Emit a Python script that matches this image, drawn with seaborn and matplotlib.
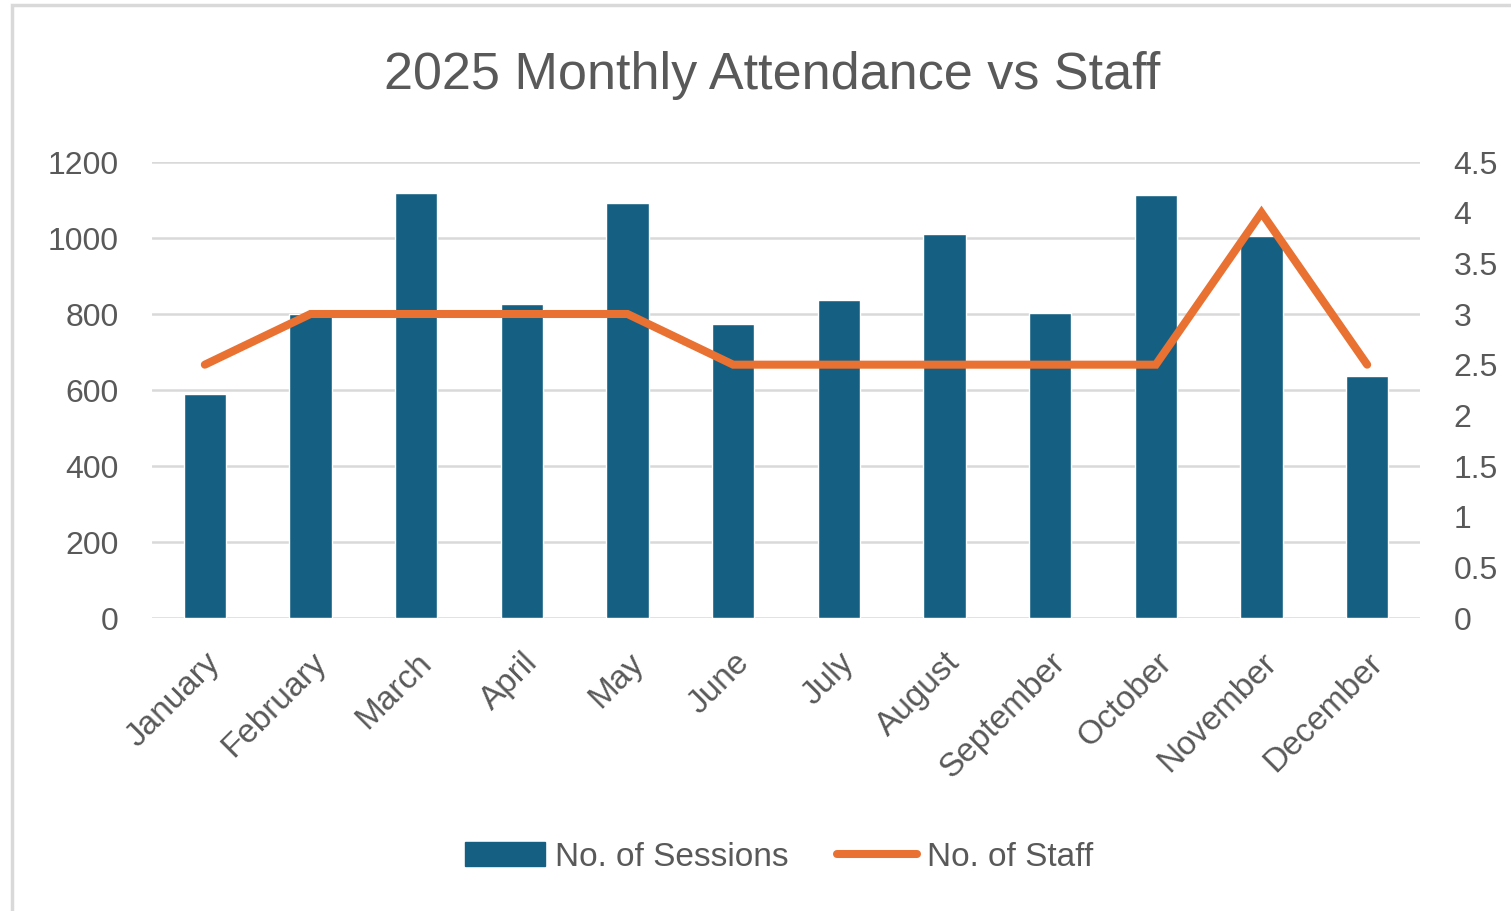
import matplotlib
matplotlib.use("Agg")
import matplotlib.pyplot as plt
import seaborn as sns
import pandas as pd
from matplotlib.patches import Rectangle, Patch
from matplotlib.lines import Line2D

months = ["January", "February", "March", "April", "May", "June", "July",
          "August", "September", "October", "November", "December"]
sessions = [590, 799, 1118, 825, 1092, 773, 836, 1011, 803, 1112, 1005, 638]
staff = [2.5, 3, 3, 3, 3, 2.5, 2.5, 2.5, 2.5, 2.5, 4, 2.5]
left_ticks = [0, 200, 400, 600, 800, 1000, 1200]
right_ticks = [0, 0.5, 1, 1.5, 2, 2.5, 3, 3.5, 4, 4.5]
right_labels = ["0", "0.5", "1", "1.5", "2", "2.5", "3", "3.5", "4", "4.5"]

title = "2025 Monthly Attendance vs Staff"
bar_label = "No. of Sessions"
line_label = "No. of Staff"

BLUE = "#156082"
ORANGE = "#E97132"
TEXT = "#595959"
GRID = "#D9D9D9"

sns.set_theme(style="white")
plt.rcParams["font.family"] = ["Liberation Sans", "DejaVu Sans"]

df = pd.DataFrame({"month": months, "sessions": sessions, "staff": staff})

fig = plt.figure(figsize=(15.11, 9.11), dpi=100)
ax = fig.add_axes([152 / 1511, 1 - 618 / 911, (1420 - 152) / 1511, (618 - 162) / 911])

sns.barplot(data=df, x="month", y="sessions", color=BLUE, width=0.4,
            saturation=1, ax=ax, zorder=2)
ax.set_ylim(0, 1200)
ax.set_xlim(-0.5, 11.5)
ax.set_yticks(left_ticks)
ax.set_yticklabels([str(t) for t in left_ticks])
ax.yaxis.grid(True, color=GRID, linewidth=1.8)
ax.set_axisbelow(True)
ax.set_xlabel("")
ax.set_ylabel("")
for s in ax.spines.values():
    s.set_visible(False)
ax.tick_params(axis="y", length=0, pad=24, labelsize=23, labelcolor=TEXT)
ax.tick_params(axis="x", length=0, pad=21, labelsize=24, labelcolor=TEXT)
ax.set_xticks(range(len(months)))
ax.set_xticklabels(months, rotation=45, ha="right", rotation_mode="anchor")

ax2 = ax.twinx()
sns.pointplot(data=df, x="month", y="staff", color=ORANGE, ax=ax2,
              markers="", linestyles="-", errorbar=None)
for ln in ax2.lines:
    ln.set_linewidth(5.8)
    ln.set_solid_capstyle("round")
    ln.set_solid_joinstyle("miter")
ax2.set_ylim(0, 4.5)
ax2.set_xlim(-0.5, 11.5)
ax2.set_yticks(right_ticks)
ax2.set_yticklabels(right_labels)
ax2.set_ylabel("")
ax2.set_xlabel("")
ax2.grid(False)
for s in ax2.spines.values():
    s.set_visible(False)
ax2.tick_params(axis="y", length=0, pad=24, labelsize=23, labelcolor=TEXT)

fig.text(772 / 1511, 1 - 76 / 911, title, ha="center", va="center",
         fontsize=37.5, color=TEXT)

handles = [Patch(facecolor=BLUE, edgecolor=BLUE),
           Line2D([0], [0], color=ORANGE, linewidth=5.8, solid_capstyle="round")]
fig.legend(handles, [bar_label, line_label], loc="center",
           bbox_to_anchor=(779 / 1511, 1 - 857 / 911), ncol=2, frameon=False,
           fontsize=24, labelcolor=TEXT, handlelength=2.4, handleheight=0.7,
           handletextpad=0.3, columnspacing=1.45)

fig.patches.append(Rectangle((12 / 1511, -0.1), 1.5, (911 - 5) / 911 + 0.1,
                             transform=fig.transFigure, fill=False,
                             edgecolor=GRID, linewidth=2.5))

fig.savefig("out.png", dpi=100, facecolor="white")
